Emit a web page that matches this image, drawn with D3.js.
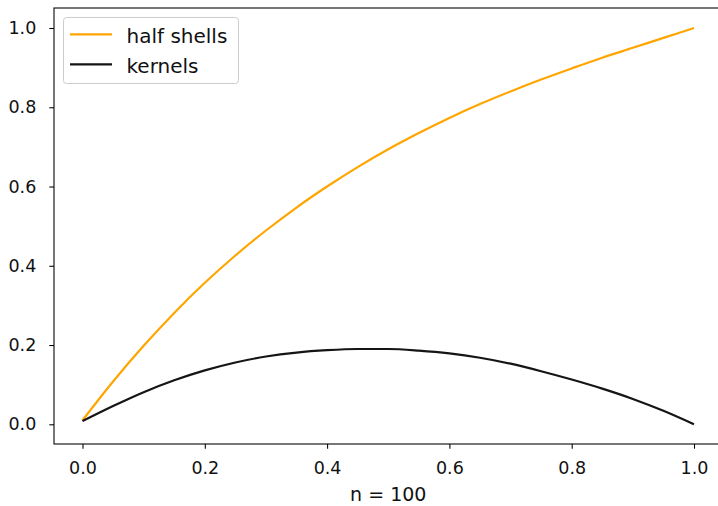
<!DOCTYPE html>
<html>
<head>
<meta charset="utf-8">
<script src="https://cdn.jsdelivr.net/npm/d3@7"></script>
<style>
  body { margin: 0; background: #fff; }
  text { font-family: "DejaVu Sans", sans-serif; }
</style>
</head>
<body>
<div id="chart"></div>
<script>
// data
var xs = [0, 0.05, 0.1, 0.15, 0.2, 0.25, 0.3, 0.35, 0.4, 0.45, 0.5,
          0.55, 0.6, 0.65, 0.7, 0.75, 0.8, 0.85, 0.9, 0.95, 1.0];
var half_shells = [0.01, 0.108, 0.198, 0.281, 0.357, 0.426, 0.489, 0.547, 0.600, 0.649, 0.694,
                   0.735, 0.773, 0.808, 0.840, 0.870, 0.898, 0.925, 0.950, 0.975, 1.0];
var kernels = [0.008, 0.046, 0.081, 0.111, 0.136, 0.156, 0.171, 0.181, 0.187, 0.190, 0.190,
               0.186, 0.179, 0.168, 0.153, 0.134, 0.113, 0.090, 0.064, 0.034, 0.0];
var series_names = ['half shells', 'kernels'];
var series_colors = ['orange', '#151515'];
var x_ticks = [0, 0.2, 0.4, 0.6, 0.8, 1.0];
var y_ticks = [0, 0.2, 0.4, 0.6, 0.8, 1.0];
var x_label = 'n = 100';

var chart_width = 718;
var chart_height = 506;

// axes box (right edge falls outside the picture)
var box_left = 54, box_top = 8, box_bottom = 444, box_right = 726;

var x = d3.scaleLinear().domain([0, 1]).range([82.5, 694]);
var y = d3.scaleLinear().domain([0, 1]).range([424.3, 28]);

var svg = d3.select('#chart')
            .append('svg')
            .attr('width', chart_width)
            .attr('height', chart_height);

var line = d3.line()
             .x(function(d){ return x(d[0]); })
             .y(function(d){ return y(d[1]); })
             .curve(d3.curveMonotoneX);

[half_shells, kernels].forEach(function(vals, i){
    svg.append('path')
       .datum(xs.map(function(v, j){ return [v, vals[j]]; }))
       .attr('d', line)
       .attr('fill', 'none')
       .attr('stroke', series_colors[i])
       .attr('stroke-width', 2.2);
});

// axes
var xAxis = d3.axisBottom(x).tickValues(x_ticks).tickSize(4.7).tickPadding(13)
              .tickFormat(d3.format('.1f'));
var yAxis = d3.axisLeft(y).tickValues(y_ticks).tickSize(4.7).tickPadding(13)
              .tickFormat(d3.format('.1f'));

var gx = svg.append('g').attr('transform', 'translate(0,' + box_bottom + ')').call(xAxis);
var gy = svg.append('g').attr('transform', 'translate(' + box_left + ',0)').call(yAxis);

[gx, gy].forEach(function(g){
    g.select('.domain').remove();
    g.selectAll('line').attr('stroke', '#000').attr('stroke-width', 1.07);
    g.selectAll('text').attr('font-size', 17.5).attr('fill', '#111')
     .style('font-family', '"DejaVu Sans", sans-serif');
});

// frame
svg.append('rect')
   .attr('x', box_left).attr('y', box_top)
   .attr('width', box_right - box_left).attr('height', box_bottom - box_top)
   .attr('fill', 'none')
   .attr('stroke', '#000')
   .attr('stroke-width', 1.07);

svg.append('text')
   .attr('x', x(0.5)).attr('y', 501)
   .attr('text-anchor', 'middle')
   .attr('font-size', 19)
   .attr('fill', '#111')
   .text(x_label);

// legend
var legend = svg.append('g');
legend.append('rect')
      .attr('x', 63.5).attr('y', 17.5)
      .attr('width', 175).attr('height', 66)
      .attr('rx', 3)
      .attr('fill', '#fff').attr('fill-opacity', 0.8)
      .attr('stroke', '#ccc').attr('stroke-width', 1);

series_names.forEach(function(name, i){
    var ly = 34.3 + i * 30;
    legend.append('line')
          .attr('x1', 70).attr('x2', 112)
          .attr('y1', ly).attr('y2', ly)
          .attr('stroke', series_colors[i]).attr('stroke-width', 2.2);
    legend.append('text')
          .attr('x', 126.5).attr('y', ly + 8.2)
          .attr('font-size', 20)
          .attr('fill', '#111')
          .text(name);
});
</script>
</body>
</html>
